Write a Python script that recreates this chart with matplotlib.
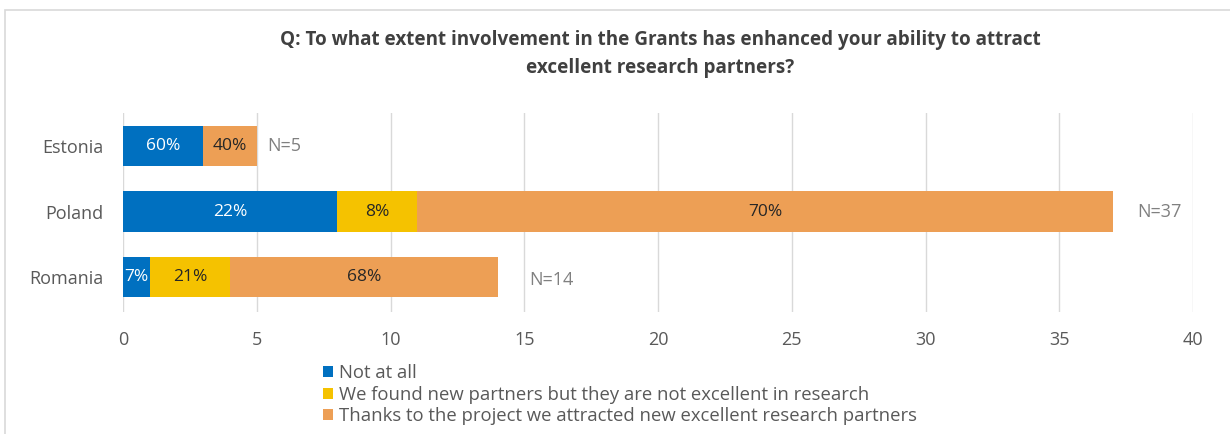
import matplotlib
matplotlib.use("Agg")
import matplotlib.pyplot as plt
from matplotlib.patches import Rectangle

countries = ["Estonia", "Poland", "Romania"]
series_names = [
    "Not at all",
    "We found new partners but they are not excellent in research",
    "Thanks to the project we attracted new excellent research partners",
]
not_at_all = [3, 8, 1]
not_excellent = [0, 3, 3]
excellent = [2, 26, 10]
pct_not_at_all = ["60%", "22%", "7%"]
pct_not_excellent = ["", "8%", "21%"]
pct_excellent = ["40%", "70%", "68%"]
totals = [5, 37, 14]
x_ticks = [0, 5, 10, 15, 20, 25, 30, 35, 40]

colors = ["#0070C0", "#F5C200", "#ED9F55"]
label_colors = ["white", "#262626", "#262626"]

plt.rcParams["font.family"] = ["Open Sans", "DejaVu Sans"]

W, H = 1230, 434
fig = plt.figure(figsize=(W / 100, H / 100), dpi=100)

# outer chart frame
fig.patches.append(Rectangle((5 / W, -0.05), 1.2, 1 - 10 / H + 0.05,
                             transform=fig.transFigure, fill=False,
                             edgecolor="#D9D9D9", linewidth=1.2))

ax = fig.add_axes([123 / W, 1 - 312 / H, (1193 - 123) / W, (312 - 113) / H])

ypos = list(range(len(countries)))
bar_h = 0.61
series = [not_at_all, not_excellent, excellent]
labels = [pct_not_at_all, pct_not_excellent, pct_excellent]
left = [0] * len(countries)
for vals, labs, col, tcol, name in zip(series, labels, colors, label_colors, series_names):
    ax.barh(ypos, vals, left=left, height=bar_h, color=col, label=name, zorder=3)
    for i, (v, lab) in enumerate(zip(vals, labs)):
        if v > 0 and lab:
            ax.text(left[i] + v / 2, ypos[i], lab, ha="center", va="center",
                    color=tcol, fontsize=12.5, zorder=4)
    left = [l + v for l, v in zip(left, vals)]

# sample size annotations
n_offsets = [0.4, 0.9, 1.2]
n_dy = [0.0, 0.0, 0.05]
for i, t in enumerate(totals):
    ax.text(t + n_offsets[i], ypos[i] + n_dy[i], f"N={t}", ha="left", va="center",
            color="#808080", fontsize=13)

ax.set_xlim(0, 40)
ax.set_ylim(2.53, -0.5)
ax.set_xticks(x_ticks)
ax.set_yticks(ypos)
ax.set_yticklabels(countries)
ax.tick_params(axis="both", length=0, labelsize=13, labelcolor="#595959")
ax.tick_params(axis="x", pad=14)
ax.tick_params(axis="y", pad=14)
ax.grid(axis="x", color="#D9D9D9", linewidth=1, zorder=0)
for s in ax.spines.values():
    s.set_visible(False)

fig.text(660 / W, 1 - 40 / H, "Q: To what extent involvement in the Grants has enhanced your ability to attract",
         ha="center", va="center", fontsize=13.6, fontweight="bold", color="#404040")
fig.text(660 / W, 1 - 68 / H, "excellent research partners?",
         ha="center", va="center", fontsize=13.6, fontweight="bold", color="#404040")

leg = fig.legend(loc="upper left", bbox_to_anchor=(323 / W, 1 - 364 / H), frameon=False,
                 fontsize=13.3, handlelength=0.55, handleheight=0.55, handletextpad=0.3,
                 labelspacing=0.2, borderaxespad=0, borderpad=0)
for t in leg.get_texts():
    t.set_color("#595959")

fig.savefig("out.png", dpi=100)
